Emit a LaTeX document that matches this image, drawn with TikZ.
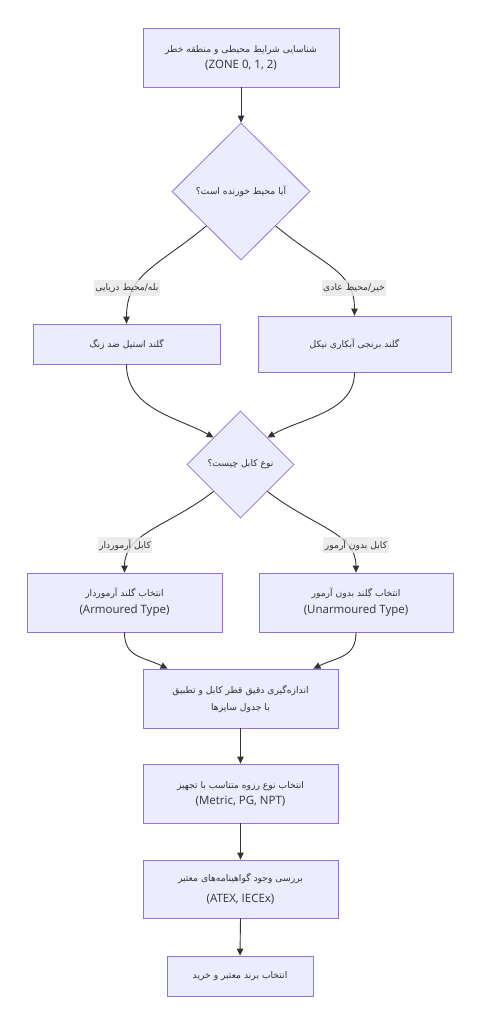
\documentclass[tikz,border=0pt]{standalone}
\usepackage{fontspec}
\setmainfont{Open Sans}
\newfontfamily\fa[Script=Arabic]{DejaVu Sans}
\TeXXeTstate=1
\usetikzlibrary{shapes.geometric,arrows.meta}
\definecolor{boxfill}{HTML}{ECECFF}
\definecolor{boxline}{HTML}{9370DB}
\definecolor{edgecol}{HTML}{333333}
\definecolor{labfill}{HTML}{E8E8E8}
\newcommand{\fatx}[1]{{\fa\fontsize{9.2}{12}\selectfont\beginR #1\endR}}
\tikzset{
  procbox/.style={rectangle, draw=boxline, fill=boxfill, line width=0.8pt, text=edgecol, inner sep=0pt, align=center, font=\fontsize{11.5}{16}\selectfont},
  decbox/.style={diamond, draw=boxline, fill=boxfill, line width=0.8pt, text=edgecol, inner sep=0pt, align=center, font=\fontsize{11.5}{16}\selectfont},
  edgelab/.style={rectangle, fill=labfill, fill opacity=0.8, text opacity=1, text=edgecol, inner xsep=1.5pt, inner ysep=3pt, font=\fontsize{11}{12}\selectfont},
  conn/.style={draw=edgecol, line width=0.9pt, -{Triangle[length=7pt,width=6.5pt]}}
}
\begin{document}
\begin{tikzpicture}[x=1pt,y=-1pt]
\useasboundingbox[fill=white] (0,0) rectangle (481,1024);

\node[procbox, minimum width=196pt, minimum height=59pt] (b1) at (241,57.5) {\fatx{شناسایی شرایط محیطی و منطقه خطر}\\(ZONE 0, 1, 2)};
\node[decbox, minimum width=138pt, minimum height=137pt] (d1) at (241,191.5) {\fatx{آیا محیط خورنده است؟}};
\node[procbox, minimum width=187pt, minimum height=40pt] (gs) at (126.5,344) {\fatx{گلند استیل ضد زنگ}};
\node[procbox, minimum width=193pt, minimum height=56pt] (gb) at (354.5,344) {\fatx{گلند برنجی آبکاری نیکل}};
\node[decbox, minimum width=107pt, minimum height=107pt] (d2) at (240.5,464.5) {\fatx{نوع کابل چیست؟}};
\node[procbox, minimum width=195pt, minimum height=59pt] (ar) at (124.5,602.5) {\fatx{انتخاب گلند آرموردار}\\[1pt](Armoured Type)};
\node[procbox, minimum width=194pt, minimum height=59pt] (un) at (356,602.5) {\fatx{انتخاب گلند بدون آرمور}\\[1pt](Unarmoured Type)};
\node[procbox, minimum width=195pt, minimum height=59pt] (m) at (240.5,698.5) {\fatx{اندازه‌گیری دقیق قطر کابل و تطبیق}\\[1pt]\fatx{با جدول سایزها}};
\node[procbox, minimum width=195pt, minimum height=59pt] (t) at (240.5,793.5) {\fatx{انتخاب نوع رزوه متناسب با تجهیز}\\(Metric, PG, NPT)};
\node[procbox, minimum width=195pt, minimum height=58pt] (c) at (240.5,889) {\fatx{بررسی وجود گواهینامه‌های معتبر}\\[5pt](ATEX, IECEx)};
\node[procbox, minimum width=146pt, minimum height=40pt] (f) at (240,976) {\fatx{انتخاب برند معتبر و خرید}};

\draw[conn] (b1.south) -- (d1.north);
\draw[conn] (d1.south west) .. controls +(-48,40) and +(0,-50) .. (gs.north);
\draw[conn] (d1.south east) .. controls +(48,40) and +(0,-45) .. (gb.north);
\draw[conn] (gs.south) .. controls +(0,45) and +(-35,-20) .. (d2.north west);
\draw[conn] (gb.south) .. controls +(0,40) and +(35,-20) .. (d2.north east);
\draw[conn] (d2.south west) .. controls +(-45,35) and +(0,-40) .. (ar.north);
\draw[conn] (d2.south east) .. controls +(45,35) and +(0,-40) .. (un.north);
\draw[conn] (ar.south) .. controls +(0,25) and +(-25,-12) .. ([xshift=25pt]m.north west);
\draw[conn] (un.south) .. controls +(0,25) and +(25,-12) .. ([xshift=-25pt]m.north east);
\draw[conn] (m.south) -- (t.north);
\draw[conn] (t.south) -- (c.north);
\draw[conn] (c.south) -- (f.north);

\node[edgelab] (l1) at (127,288) {\fatx{بله/محیط دریایی}};
\node[edgelab] (l2) at (354,288) {\fatx{خیر/محیط عادی}};
\node[edgelab] (l3) at (125,545) {\fatx{کابل آرموردار}};
\node[edgelab] (l4) at (356,545) {\fatx{کابل بدون آرمور}};
\end{tikzpicture}
\end{document}
